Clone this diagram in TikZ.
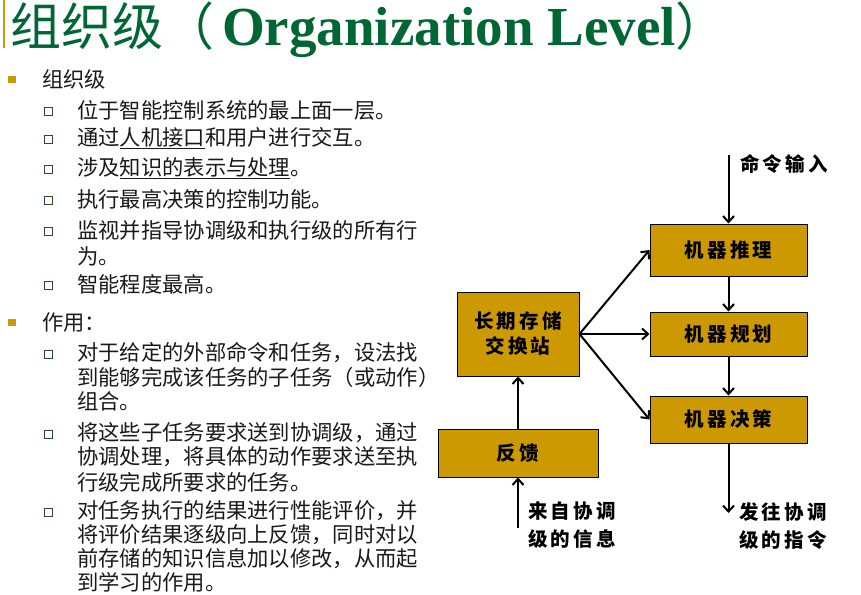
\documentclass[tikz,border=0pt]{standalone}
\usepackage{fontspec}
\newfontfamily\cjk{Noto Sans CJK SC}
\newfontfamily\kastencjk[LetterSpace=16]{Noto Sans CJK SC}
\newfontfamily\titelrm{Liberation Serif}
\usepackage{tikz}
\usetikzlibrary{arrows.meta,positioning}
\definecolor{titelgruen}{RGB}{0,102,51}
\definecolor{gold}{RGB}{204,153,0}
\definecolor{punktgruen}{RGB}{45,75,45}

\begin{document}
\begin{tikzpicture}[x=1pt,y=-1pt,
  kasten/.style={draw=black,line width=1pt,fill=gold,inner sep=0pt,align=center,
    font=\kastencjk\bfseries\fontsize{19.5}{25}\selectfont},
  schrift/.style={inner sep=0pt,anchor=west,font=\cjk\fontsize{21.3}{24.5}\selectfont,text=black!90},
  beschr/.style={inner sep=0pt,anchor=north west,align=left,
    font=\kastencjk\bfseries\fontsize{19.5}{28}\selectfont},
  pfeil/.style={line width=2pt,-{Straight Barb[length=6pt,width=11pt]}},
  unterpunkt/.style={draw=punktgruen,line width=1pt,fill=white}]
\useasboundingbox (0,0) rectangle (861,594);
%Titel mit goldenem Balken links
\draw[gold,line width=2.5pt] (4,0) -- (4,48);
\node[anchor=base west,inner sep=0pt,text=titelgruen] (titel) at (10,45.5)
  {\cjk\fontsize{51}{51}\selectfont 组织级（\hspace{8pt}\titelrm\bfseries\fontsize{55}{55}\selectfont Organization Level\cjk\mdseries\fontsize{51}{51}\selectfont ）};
%Hauptpunkte
\foreach \y/\txt in {79/组织级, 322/作用：}{
  \fill[gold] (8,\y-3) rectangle ++(8,7);
  \node[schrift] (haupt\y) at (42,\y) {\txt};
}
%Unterpunkte
\foreach \y in {110,138,168,199,230,284,353,433,511}{
  \draw[unterpunkt] (44.5,\y-2.5) rectangle ++(7.5,7.5);
}
\foreach \y/\txt in {110/位于智能控制系统的最上面一层。,
  138/{通过\underline{人机接口}和用户进行交互。},
  168/{涉及\underline{知识的表示与处理}。},
  199/执行最高决策的控制功能。,
  230/监视并指导协调级和执行级的所有行,
  256/为。,
  284/智能程度最高。,
  353/对于给定的外部命令和任务，设法找,
  377/到能够完成该任务的子任务（或动作）,
  401/组合。,
  433/将这些子任务要求送到协调级，通过,
  457/协调处理，将具体的动作要求送至执,
  482/行级完成所要求的任务。,
  511/对任务执行的结果进行性能评价，并,
  535/将评价结果逐级向上反馈，同时对以,
  559/前存储的知识信息加以修改，从而起,
  582/到学习的作用。}{
  \node[schrift] (zeile\y) at (77,\y) {\txt};
}
%Blockschaltbild
\node[kasten,minimum width=157pt,minimum height=52pt] (tuili) at (728.5,250) {机器推理};
\node[kasten,minimum width=157pt,minimum height=44pt] (guihua) at (728.5,334) {机器规划};
\node[kasten,minimum width=157pt,minimum height=47pt] (juece) at (728.5,419.5) {机器决策};
\node[kasten,minimum width=122pt,minimum height=84pt] (speicher) at (518,334) {长期存储\\交换站};
\node[kasten,minimum width=160pt,minimum height=48pt] (fankui) at (518,453) {反馈};
\coordinate (befehl) at (728.5,155);
\coordinate (aus) at (728.5,513);
\coordinate (ein) at (518,528);
\node[beschr] (befehltxt) at (740,154) {命令输入};
\node[beschr] (eintxt) at (528,502) {来自协调\\级的信息};
\node[beschr] (austxt) at (739,502) {发往协调\\级的指令};
\draw[pfeil] (befehl) -- (tuili);
\draw[pfeil] (tuili) -- (guihua);
\draw[pfeil] (guihua) -- (juece);
\draw[pfeil] (juece) -- (aus);
\draw[pfeil] (speicher.east) -- (tuili.west);
\draw[pfeil] (speicher.east) -- (guihua.west);
\draw[pfeil] (speicher.east) -- (juece.west);
\draw[pfeil] (fankui) -- (speicher);
\draw[pfeil] (ein) -- (fankui);
\end{tikzpicture}
\end{document}
